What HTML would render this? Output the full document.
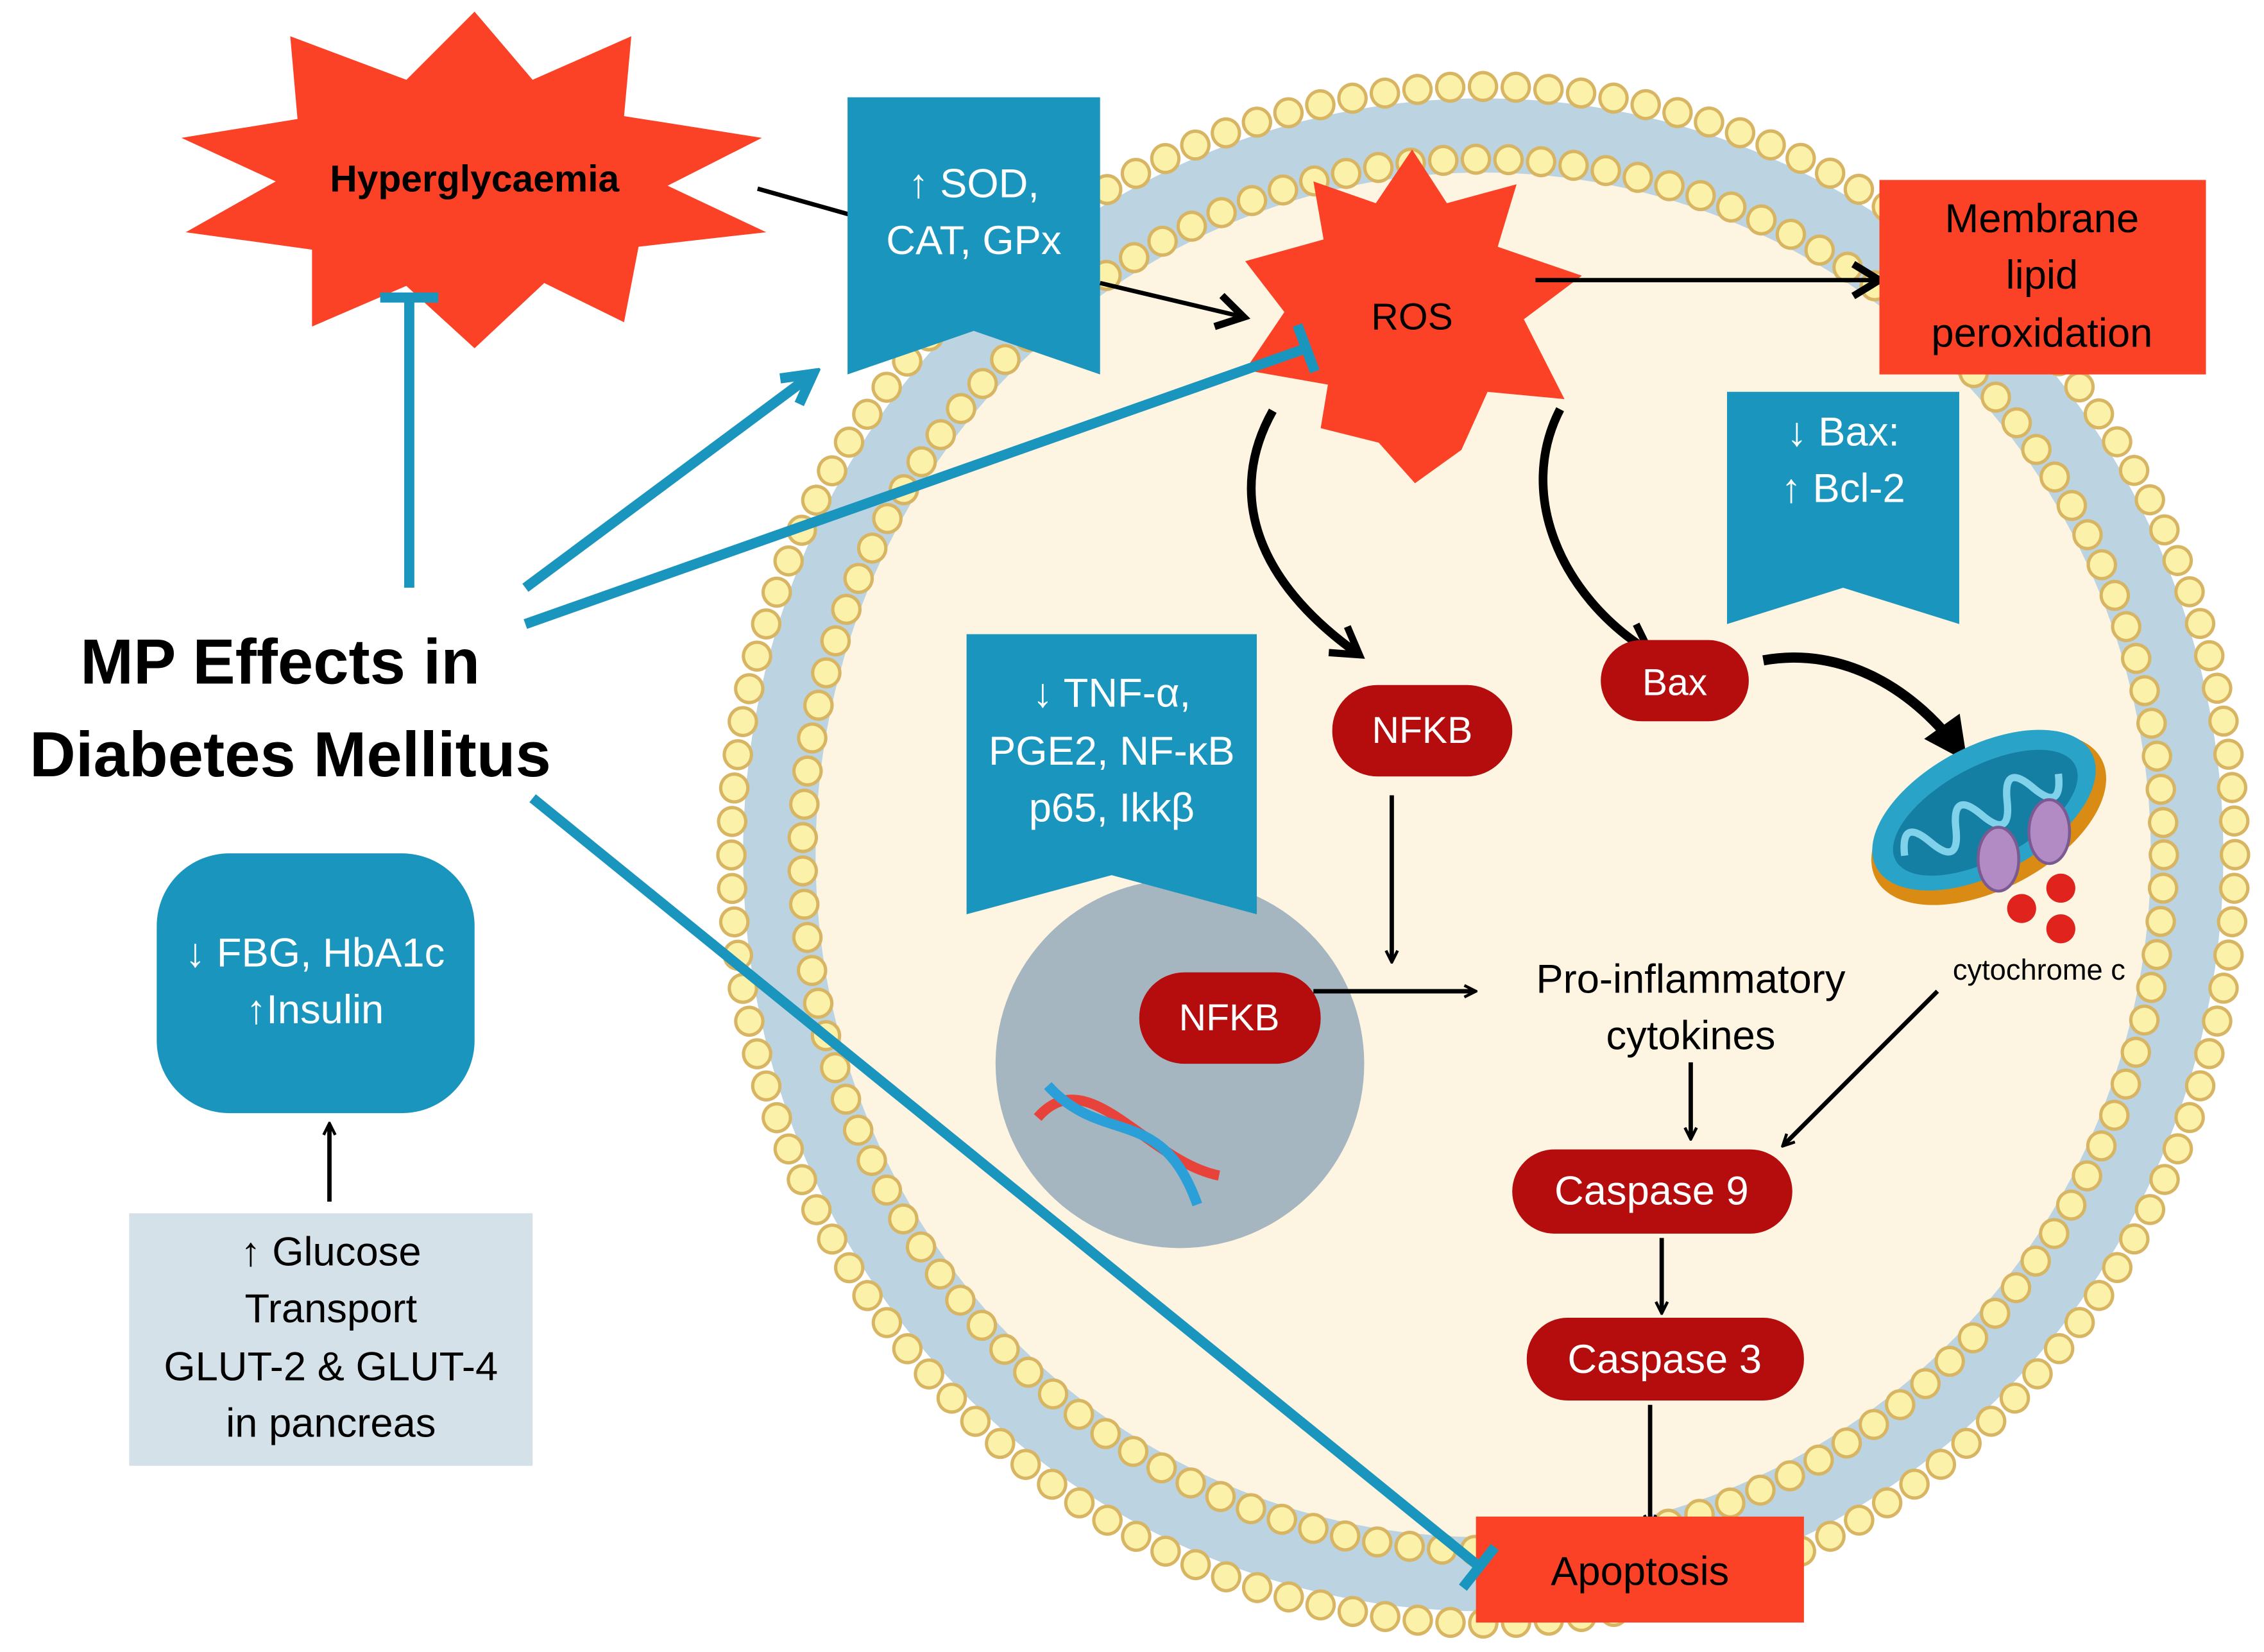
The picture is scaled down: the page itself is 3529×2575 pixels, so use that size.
<!DOCTYPE html>
<html><head><meta charset="utf-8"><style>
html,body{margin:0;padding:0;background:#fff;}
svg{display:block;}
text{font-family:"Liberation Sans",sans-serif;}
</style></head><body>
<svg width="3529" height="2575" viewBox="0 0 1560 1138.3" preserveAspectRatio="none" xmlns="http://www.w3.org/2000/svg">
<defs>
<marker id="ah" markerWidth="10" markerHeight="10" refX="8" refY="5" orient="auto" markerUnits="userSpaceOnUse" viewBox="0 0 10 10">
<path d="M1,1 L9,5 L1,9" fill="none" stroke="#000" stroke-width="2"/></marker>
<marker id="ahb" markerWidth="28" markerHeight="28" refX="20" refY="14" orient="auto" markerUnits="userSpaceOnUse" viewBox="0 0 28 28">
<path d="M4,3 L22,14 L4,25" fill="none" stroke="#000" stroke-width="5"/></marker>
<marker id="ahbig" markerWidth="34" markerHeight="34" refX="26" refY="17" orient="auto" markerUnits="userSpaceOnUse" viewBox="0 0 34 34">
<path d="M2,2 L32,17 L2,32 Z" fill="#000"/></marker>
<marker id="ahblue" markerWidth="30" markerHeight="30" refX="20" refY="15" orient="auto" markerUnits="userSpaceOnUse" viewBox="0 0 30 30">
<path d="M4,4 L24,15 L4,26" fill="none" stroke="#1a95be" stroke-width="7"/></marker>
</defs>
<rect width="1560" height="1139" fill="#fff"/>
<!-- cell -->
<g transform="translate(1022,589) scale(1,1.022)">
<circle cx="0" cy="0" r="510" fill="#bcd3e2"/>
<circle cx="0" cy="0" r="460" fill="#fdf4e1"/>
<circle cx="0" cy="0" r="518" fill="none" stroke="#d8b562" stroke-width="21" stroke-dasharray="0 22.6" stroke-linecap="round"/>
<circle cx="0" cy="0" r="518" fill="none" stroke="#fbf1a9" stroke-width="16.5" stroke-dasharray="0 22.6" stroke-linecap="round"/>
<circle cx="0" cy="0" r="469" fill="none" stroke="#d8b562" stroke-width="21" stroke-dasharray="0 22.5" stroke-linecap="round"/>
<circle cx="0" cy="0" r="469" fill="none" stroke="#fbf1a9" stroke-width="16.5" stroke-dasharray="0 22.5" stroke-linecap="round"/>
</g>

<!-- Hyperglycaemia star -->
<polygon fill="#fc4226" points="327,8 367,55 435,25 430,80 525,95 460,128 528,160 440,170 430,222 375,195 327,240 280,197 215,225 215,172 128,160 190,125 125,95 205,82 200,25 280,55"/>
<text x="327" y="132" font-size="26" font-weight="bold" text-anchor="middle">Hyperglycaemia</text>
<line x1="522" y1="130" x2="586" y2="148" stroke="#000" stroke-width="3"/>

<!-- SOD box -->
<polygon fill="#1a95be" points="584,67 758,67 758,258 671,228 584,258"/>
<text x="671" y="136" font-size="28" fill="#fff" text-anchor="middle">↑ SOD,</text>
<text x="671" y="175" font-size="28" fill="#fff" text-anchor="middle">CAT, GPx</text>

<!-- ROS star -->
<polygon fill="#fc4226" points="973,103 997,140 1045,127 1032,170 1090,190 1050,220 1078,275 1025,270 1007,310 975,333 950,305 910,295 915,265 858,255 885,215 858,180 912,165 905,125 948,140"/>
<text x="973" y="227" font-size="26" text-anchor="middle">ROS</text>
<line x1="758" y1="195" x2="855" y2="218" stroke="#000" stroke-width="3" marker-end="url(#ahb)"/>
<line x1="1058" y1="193" x2="1293" y2="193" stroke="#000" stroke-width="3" marker-end="url(#ahb)"/>

<!-- Membrane lipid box -->
<rect x="1295" y="124" width="225" height="134" fill="#fc4226"/>
<text x="1407" y="160" font-size="28" text-anchor="middle">Membrane</text>
<text x="1407" y="199" font-size="28" text-anchor="middle">lipid</text>
<text x="1407" y="239" font-size="28" text-anchor="middle">peroxidation</text>

<!-- Bax box -->
<polygon fill="#1a95be" points="1190,270 1350,270 1350,430 1270,405 1190,430"/>
<text x="1270" y="307" font-size="28" fill="#fff" text-anchor="middle">↓  Bax:</text>
<text x="1270" y="346" font-size="28" fill="#fff" text-anchor="middle">↑ Bcl-2</text>

<!-- curved arrows -->
<path d="M877,283 C845,340 865,400 935,450" fill="none" stroke="#000" stroke-width="6" marker-end="url(#ahb)"/>
<path d="M1075,282 C1045,340 1075,410 1135,448" fill="none" stroke="#000" stroke-width="6" marker-end="url(#ahb)"/>
<path d="M1215,455 C1270,445 1320,475 1352,520" fill="none" stroke="#000" stroke-width="7" marker-end="url(#ahbig)"/>

<!-- pills -->
<rect x="918" y="472" width="124" height="63" rx="31" fill="#b50d0d"/>
<text x="980" y="512" font-size="26" fill="#fff" text-anchor="middle">NFKB</text>
<rect x="1103" y="441" width="102" height="56" rx="28" fill="#b50d0d"/>
<text x="1154" y="479" font-size="26" fill="#fff" text-anchor="middle">Bax</text>

<!-- mitochondria -->
<g transform="rotate(-28 1368 560)">
<ellipse cx="1368" cy="565" rx="88" ry="48" fill="#d98b14"/>
<ellipse cx="1368" cy="558" rx="84" ry="44" fill="#2aa3c9"/>
<ellipse cx="1368" cy="560" rx="70" ry="32" fill="#157ea3"/>
<path d="M1305,560 q10,-25 20,0 q10,25 20,0 q10,-25 20,0 q10,25 20,0 q10,-25 20,0 q10,25 20,0" fill="none" stroke="#7fd2ea" stroke-width="5"/>
</g>
<ellipse cx="1377" cy="592" rx="14" ry="22" fill="#b28bc4" stroke="#7a5a90" stroke-width="2"/>
<ellipse cx="1412" cy="573" rx="14" ry="22" fill="#b28bc4" stroke="#7a5a90" stroke-width="2"/>
<circle cx="1393" cy="626" r="10" fill="#e0231c"/>
<circle cx="1420" cy="612" r="10" fill="#e0231c"/>
<circle cx="1420" cy="640" r="10" fill="#e0231c"/>
<text x="1405" y="675" font-size="20" text-anchor="middle">cytochrome c</text>

<line x1="959" y1="548" x2="959" y2="662" stroke="#000" stroke-width="3" marker-end="url(#ah)"/>

<!-- nucleus -->
<circle cx="813" cy="733" r="127" fill="#a6b6c0"/>
<!-- TNF box -->
<polygon fill="#1a95be" points="666,437 866,437 866,630 766,603 666,630"/>
<text x="766" y="487" font-size="28" fill="#fff" text-anchor="middle">↓ TNF-α,</text>
<text x="766" y="527" font-size="28" fill="#fff" text-anchor="middle">PGE2, NF-κB</text>
<text x="766" y="566" font-size="28" fill="#fff" text-anchor="middle">p65, Ikkβ</text>
<rect x="785" y="670" width="125" height="63" rx="31" fill="#b50d0d"/>
<text x="847" y="710" font-size="26" fill="#fff" text-anchor="middle">NFKB</text>
<!-- DNA -->
<path d="M715,770 C750,730 790,800 840,810" fill="none" stroke="#e8433a" stroke-width="7"/>
<path d="M722,748 C760,790 800,760 825,830" fill="none" stroke="#2a9fd8" stroke-width="7"/>
<line x1="905" y1="683" x2="1016" y2="683" stroke="#000" stroke-width="3" marker-end="url(#ah)"/>

<text x="1165" y="684" font-size="28" text-anchor="middle">Pro-inflammatory</text>
<text x="1165" y="723" font-size="28" text-anchor="middle">cytokines</text>
<line x1="1165" y1="732" x2="1165" y2="784" stroke="#000" stroke-width="3" marker-end="url(#ah)"/>
<line x1="1335" y1="683" x2="1229" y2="789" stroke="#000" stroke-width="3" marker-end="url(#ah)"/>

<rect x="1042" y="792" width="193" height="58" rx="29" fill="#b50d0d"/>
<text x="1138" y="830" font-size="28" fill="#fff" text-anchor="middle">Caspase 9</text>
<line x1="1145" y1="853" x2="1145" y2="904" stroke="#000" stroke-width="3" marker-end="url(#ah)"/>
<rect x="1052" y="908" width="191" height="57" rx="28" fill="#b50d0d"/>
<text x="1147" y="946" font-size="28" fill="#fff" text-anchor="middle">Caspase 3</text>
<line x1="1137" y1="968" x2="1137" y2="1051" stroke="#000" stroke-width="3" marker-end="url(#ah)"/>

<rect x="1017" y="1045" width="226" height="73" fill="#fc4226"/>
<text x="1130" y="1092" font-size="28" text-anchor="middle">Apoptosis</text>

<!-- MP effects -->
<text x="193" y="471" font-size="44" font-weight="bold" text-anchor="middle">MP Effects in</text>
<text x="200" y="535" font-size="44" font-weight="bold" text-anchor="middle">Diabetes Mellitus</text>

<!-- blue connectors -->
<g stroke="#1a95be" stroke-width="7" fill="none">
<line x1="282" y1="405" x2="282" y2="205"/>
<line x1="262" y1="205" x2="302" y2="205"/>
<line x1="362" y1="405" x2="557" y2="260" marker-end="url(#ahblue)"/>
<line x1="362" y1="430" x2="900" y2="240"/>
<line x1="894" y1="224" x2="906" y2="256"/>
<line x1="367" y1="550" x2="1020" y2="1080"/>
<line x1="1008" y1="1094" x2="1030" y2="1066"/>
</g>

<!-- FBG box -->
<rect x="108" y="588" width="219" height="179" rx="50" fill="#1a95be"/>
<text x="217" y="666" font-size="28" fill="#fff" text-anchor="middle">↓ FBG, HbA1c</text>
<text x="217" y="705" font-size="28" fill="#fff" text-anchor="middle">↑Insulin</text>
<line x1="227" y1="828" x2="227" y2="775" stroke="#000" stroke-width="3" marker-end="url(#ah)"/>

<rect x="89" y="836" width="278" height="174" fill="#d4e1e8"/>
<text x="228" y="872" font-size="28" text-anchor="middle">↑ Glucose</text>
<text x="228" y="911" font-size="28" text-anchor="middle">Transport</text>
<text x="228" y="951" font-size="28" text-anchor="middle">GLUT-2 &amp; GLUT-4</text>
<text x="228" y="990" font-size="28" text-anchor="middle">in pancreas</text>
</svg>
</body></html>
